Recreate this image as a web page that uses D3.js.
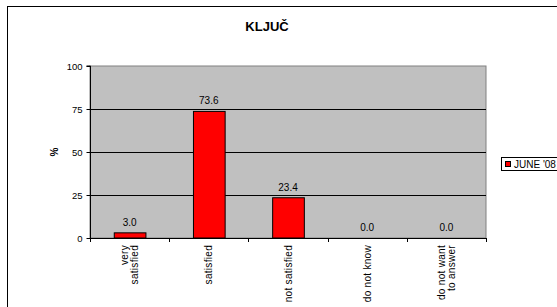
<!DOCTYPE html>
<html><head><meta charset="utf-8">
<script src="https://cdn.jsdelivr.net/npm/d3@7"></script>
<style>body{margin:0;background:#fff}svg{display:block;font-family:Arial,"Liberation Sans",sans-serif}</style>
</head><body>
<script>
const categories = [["very","satisfied"],["satisfied"],["not satisfied"],["do not know"],["do not want","to answer"]];
const values = [3.0, 73.6, 23.4, 0.0, 0.0];
const yTicks = [0, 25, 50, 75, 100];
const seriesName = "JUNE '08";
const title = "KLJUČ";

(function(){
const W = 557, H = 307;
const svg = d3.select("body").append("svg").attr("width", W).attr("height", H);

svg.append("rect").attr("x", 7.5).attr("y", 6.5).attr("width", 600).attr("height", 400)
  .attr("fill", "#fff").attr("stroke", "#000").attr("stroke-width", 1);

const pL = 90, pR = 486, pT = 66, pB = 238;
const x = d3.scaleBand().domain(d3.range(values.length)).range([pL, pR]).paddingInner(0.6).paddingOuter(0.3);
const xb = d3.scaleBand().domain(d3.range(values.length)).range([pL, pR]);
const y = d3.scaleLinear().domain([0, 100]).range([pB, pT]);

svg.append("rect").attr("x", pL).attr("y", pT).attr("width", pR - pL).attr("height", pB - pT)
  .attr("fill", "#c0c0c0").attr("stroke", "#808080");

svg.append("g").selectAll("line").data(yTicks.filter(d => d > 0 && d < 100)).join("line")
  .attr("x1", pL).attr("x2", pR).attr("y1", d => Math.round(y(d)) + 0.5).attr("y2", d => Math.round(y(d)) + 0.5)
  .attr("stroke", "#000");

svg.append("g").selectAll("rect").data(values).join("rect")
  .attr("x", (d, i) => x(i) + 0.5).attr("width", x.bandwidth())
  .attr("y", d => y(d)).attr("height", d => pB - y(d))
  .attr("fill", "#ff0000").attr("stroke", "#000").attr("stroke-width", 1)
  .attr("display", d => d > 0 ? null : "none");

svg.append("g").selectAll("text").data(values).join("text")
  .attr("x", (d, i) => xb(i) + xb.bandwidth() / 2).attr("y", d => y(d) - 7)
  .attr("text-anchor", "middle").attr("font-size", 10).attr("fill", "#000")
  .text(d => d.toFixed(1));

const ya = svg.append("g").attr("transform", `translate(${pL + 0.5},0)`)
  .call(d3.axisLeft(y).tickValues(yTicks).tickSize(4).tickPadding(4));
ya.select(".domain").attr("stroke", "#000").attr("d", `M-4,${pT}H0V${pB}`);
ya.selectAll("text").attr("font-size", 9.5).attr("font-family", "Arial,'Liberation Sans',sans-serif").attr("fill", "#000");
ya.selectAll("line").attr("stroke", "#000");

svg.append("line").attr("x1", pL).attr("x2", pR).attr("y1", pB + 0.5).attr("y2", pB + 0.5).attr("stroke", "#000");
svg.append("g").selectAll("line").data(d3.range(values.length + 1)).join("line")
  .attr("x1", i => Math.round(pL + i * xb.bandwidth()) + 0.5).attr("x2", i => Math.round(pL + i * xb.bandwidth()) + 0.5)
  .attr("y1", pB).attr("y2", pB + 4).attr("stroke", "#000");

const lab = svg.append("g").selectAll("text").data(categories).join("text")
  .attr("transform", (d, i) => `translate(${xb(i) + xb.bandwidth() / 2},${pB + 7}) rotate(-90)`)
  .attr("text-anchor", "end").attr("font-size", 10).attr("letter-spacing", 0.3).attr("fill", "#000");
lab.each(function(d) {
  const n = d.length;
  d3.select(this).selectAll("tspan").data(d).join("tspan")
    .attr("x", 0).attr("y", (t, j) => (j - (n - 1) / 2) * 10.5 + 3.5)
    .text(t => t);
});

svg.append("text").attr("transform", `translate(58,152) rotate(-90)`).attr("text-anchor", "middle")
  .attr("font-size", 10).attr("font-weight", "bold").text("%");

svg.append("text").attr("x", 267).attr("y", 31).attr("text-anchor", "middle")
  .attr("font-size", 13).attr("font-weight", "bold").text(title);

svg.append("rect").attr("x", 501.5).attr("y", 157.5).attr("width", 70).attr("height", 13)
  .attr("fill", "#fff").attr("stroke", "#000");
svg.append("rect").attr("x", 505.5).attr("y", 161.5).attr("width", 5).attr("height", 5)
  .attr("fill", "#ff0000").attr("stroke", "#000");
svg.append("text").attr("x", 514).attr("y", 167.5).attr("font-size", 10).text(seriesName);
})();
</script>
</body></html>
